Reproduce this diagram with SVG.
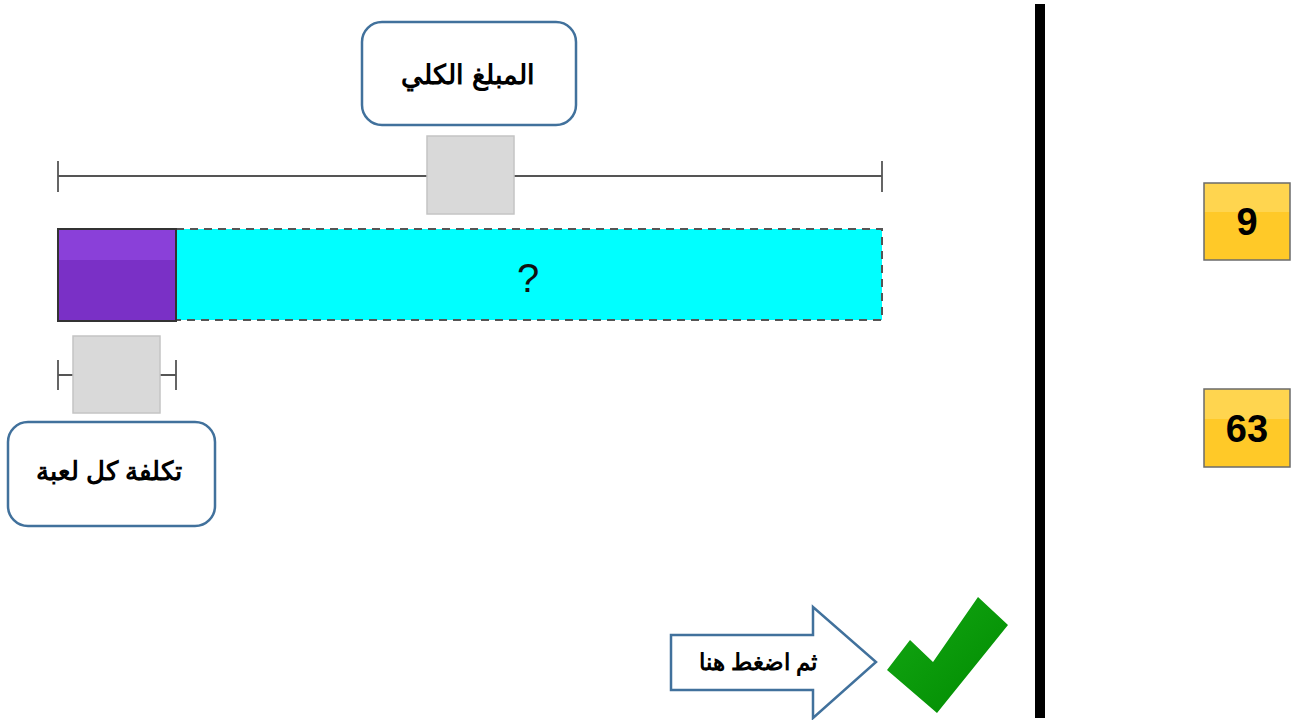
<svg xmlns="http://www.w3.org/2000/svg" width="1292" height="720" viewBox="0 0 1292 720">
<defs>
<style>
.callout{fill:#fff;stroke:#41719C;stroke-width:2.5}
.ar{font-family:"Liberation Sans","Noto Sans",sans-serif;font-weight:bold;fill:#000;text-anchor:middle}
.rule{stroke:#555;stroke-width:1.8;fill:none}
.gray{fill:#d9d9d9;stroke:#c4c4c4;stroke-width:1.5}
.ybox{stroke:#6b6b6b;stroke-width:1.5}
.num{font-family:"Liberation Sans",Arial,sans-serif;font-weight:bold;font-size:38px;fill:#000;text-anchor:middle}
</style>
<linearGradient id="yg" x1="0" y1="0" x2="0" y2="1">
<stop offset="0" stop-color="#FFD54F"/><stop offset="0.38" stop-color="#FFD54F"/><stop offset="0.38" stop-color="#FFC928"/><stop offset="1" stop-color="#FFC928"/>
</linearGradient>
<linearGradient id="pg" x1="0" y1="0" x2="0" y2="1">
<stop offset="0" stop-color="#8A40D9"/><stop offset="0.34" stop-color="#8A40D9"/><stop offset="0.34" stop-color="#7A30C6"/><stop offset="1" stop-color="#7A30C6"/>
</linearGradient>
<linearGradient id="gg" x1="0" y1="0" x2="1" y2="1">
<stop offset="0" stop-color="#14A814"/><stop offset="1" stop-color="#008A00"/>
</linearGradient>
</defs>
<rect width="1292" height="720" fill="#fff"/>

<g id="total-label">
<rect class="callout" x="362" y="22" width="214" height="103" rx="20"/>
<text class="ar" x="468" y="84" font-size="27" direction="rtl">المبلغ الكلي</text>
</g>

<g id="total-bracket">
<line class="rule" x1="58" y1="176" x2="882" y2="176"/>
<line class="rule" x1="58" y1="161" x2="58" y2="192"/>
<line class="rule" x1="882" y1="161" x2="882" y2="192"/>
<rect class="gray" x="427" y="136" width="87" height="78"/>
</g>

<g id="bar">
<rect x="176" y="229" width="706" height="91" fill="#00FFFF" stroke="#555" stroke-width="2" stroke-dasharray="8,6"/>
<rect x="58" y="229" width="118" height="92" fill="url(#pg)" stroke="#333" stroke-width="2"/>
<text x="528" y="292" font-family="Liberation Sans,Arial,sans-serif" font-size="40" text-anchor="middle" fill="#111">?</text>
</g>

<g id="unit-bracket">
<line class="rule" x1="58" y1="375" x2="176" y2="375"/>
<line class="rule" x1="58" y1="360" x2="58" y2="390"/>
<line class="rule" x1="176" y1="360" x2="176" y2="390"/>
<rect class="gray" x="73" y="336" width="87" height="77"/>
</g>

<g id="unit-label">
<rect class="callout" x="8" y="422" width="207" height="104" rx="20"/>
<text class="ar" x="109" y="480" font-size="26" direction="rtl">تكلفة كل لعبة</text>
</g>

<g id="press-arrow">
<path class="callout" d="M671,635 H813 V607 L876,662 L813,718 V690 H671 Z"/>
<text class="ar" x="758" y="670" font-size="23" direction="rtl">ثم اضغط هنا</text>
</g>

<g id="check">
<polygon points="887,670 910,640 933,662 978,597 1008,625 937,713" fill="url(#gg)"/>
</g>

<g id="divider">
<rect x="1035" y="4" width="10" height="714" fill="#000"/>
</g>

<g id="card-9">
<rect class="ybox" x="1204" y="183" width="86" height="77" fill="url(#yg)"/>
<text class="num" x="1247" y="235">9</text>
</g>

<g id="card-63">
<rect class="ybox" x="1204" y="389" width="86" height="78" fill="url(#yg)"/>
<text class="num" x="1247" y="442">63</text>
</g>
</svg>
